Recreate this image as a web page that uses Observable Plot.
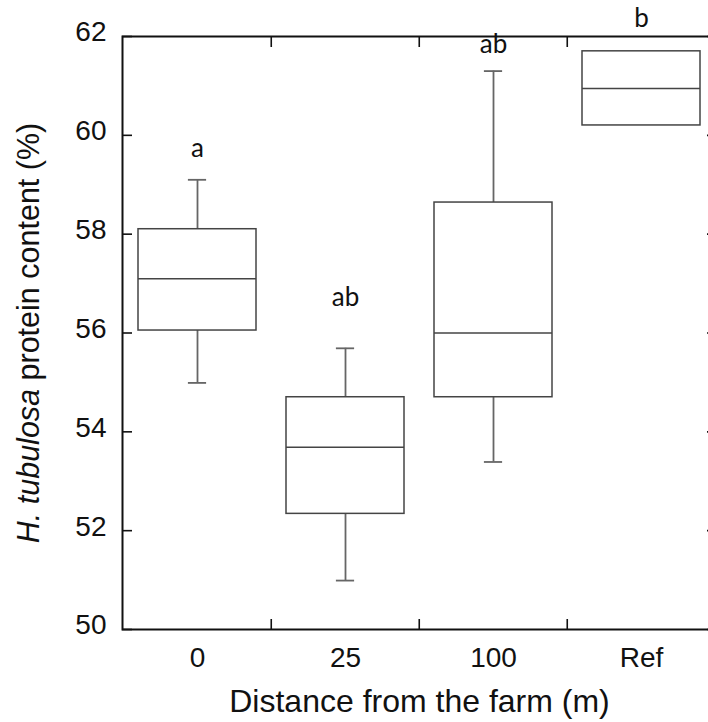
<!DOCTYPE html>
<html><head><meta charset="utf-8">
<script src="https://cdn.jsdelivr.net/npm/d3@7"></script>
<script src="https://cdn.jsdelivr.net/npm/@observablehq/plot@0.6"></script>
<style>body{margin:0;background:#fff}</style>
</head><body><div id="chart"></div>
<script>
const categories = ["0", "25", "100", "Ref"];
const whiskerLow = [54.99, 50.99, 53.39, null];
const q1 = [56.05, 52.34, 54.70, 60.20];
const median = [57.10, 53.69, 56.00, 60.95];
const q3 = [58.10, 54.70, 58.64, 61.70];
const whiskerHigh = [59.10, 55.69, 61.30, null];
const letters = ["a", "ab", "ab", "b"];
const letterY = [59.72, 56.71, 61.83, 62.37];
const yTicks = [50, 52, 54, 56, 58, 60, 62];
const xTitle = "Distance from the farm (m)";
const yTitleItalic = "H. tubulosa";
const yTitleRest = " protein content (%)";

const rows = categories.map((c, i) => ({cat: c, lo: whiskerLow[i], q1: q1[i], med: median[i], q3: q3[i], hi: whiskerHigh[i], letter: letters[i], ly: letterY[i]}));
const withWhisk = rows.filter(d => d.lo != null);

const W = 708, H = 722, mL = 122, mR = -8, mT = 36, mB = 93;
const pIn = 0.2, pOut = 0.1;
const step = (W - mL - mR) / (categories.length - pIn + 2 * pOut);
const bw = step * (1 - pIn);
const capInset = (bw - 19) / 2;
const font = "'Liberation Sans', Arial, Helvetica, sans-serif";
const ink = "#111";

const chart = Plot.plot({
  width: W, height: H,
  marginLeft: mL, marginRight: mR, marginTop: mT, marginBottom: mB,
  style: {fontFamily: font, background: "#fff", color: ink, overflow: "visible"},
  x: {type: "band", domain: categories, paddingInner: pIn, paddingOuter: pOut},
  y: {domain: [50, 62]},
  marks: [
    Plot.ruleX(withWhisk, {x: "cat", y1: "lo", y2: "q1", stroke: "#666", strokeWidth: 1.8}),
    Plot.ruleX(withWhisk, {x: "cat", y1: "q3", y2: "hi", stroke: "#666", strokeWidth: 1.8}),
    Plot.tickY(withWhisk, {x: "cat", y: "lo", insetLeft: capInset, insetRight: capInset, stroke: "#666", strokeWidth: 1.8}),
    Plot.tickY(withWhisk, {x: "cat", y: "hi", insetLeft: capInset, insetRight: capInset, stroke: "#666", strokeWidth: 1.8}),
    Plot.barY(rows, {x: "cat", y1: "q1", y2: "q3", fill: "white", stroke: "#444", strokeWidth: 1.5}),
    Plot.tickY(rows, {x: "cat", y: "med", stroke: "#444", strokeWidth: 1.5}),
    Plot.frame({stroke: ink, strokeWidth: 2}),
    Plot.axisY(yTicks, {anchor: "left", tickSize: 0, tickPadding: 16, dy: -4, label: null, fontSize: 28, fill: ink}),
    Plot.axisY(yTicks, {anchor: "left", tickSize: -10, tickFormat: () => "", label: null, stroke: ink, strokeWidth: 1.6}),
    Plot.axisY(yTicks, {anchor: "right", tickSize: -10, tickFormat: () => "", label: null, stroke: ink, strokeWidth: 1.6}),
    Plot.axisX(categories, {anchor: "bottom", tickSize: 0, tickPadding: 18, label: null, fontSize: 28, fill: ink}),
    Plot.axisX(categories.slice(1), {anchor: "bottom", tickSize: -10, dx: -step / 2, tickFormat: () => "", label: null, stroke: ink, strokeWidth: 1.6}),
    Plot.axisX(categories.slice(1), {anchor: "top", tickSize: -10, dx: -step / 2, tickFormat: () => "", label: null, stroke: ink, strokeWidth: 1.6}),
    Plot.text(rows, {x: "cat", y: "ly", text: "letter", fontFamily: "Lato, 'Open Sans', sans-serif", fontSize: 26, fill: ink}),
    Plot.text([xTitle], {frameAnchor: "bottom", lineAnchor: "middle", dy: 72.5, fontSize: 32, fill: ink}),
    Plot.text([yTitleItalic + yTitleRest], {frameAnchor: "left", textAnchor: "middle", rotate: -90, dx: -93, fontSize: 30.5, fill: ink})
  ]
});
document.getElementById("chart").appendChild(chart);

chart.querySelectorAll("text").forEach(el => {
  if (el.textContent === yTitleItalic + yTitleRest) {
    el.textContent = "";
    const a = document.createElementNS("http://www.w3.org/2000/svg", "tspan");
    a.setAttribute("font-style", "italic");
    a.textContent = yTitleItalic;
    const b = document.createElementNS("http://www.w3.org/2000/svg", "tspan");
    b.textContent = yTitleRest;
    el.appendChild(a); el.appendChild(b);
  }
});
</script>
</body></html>
